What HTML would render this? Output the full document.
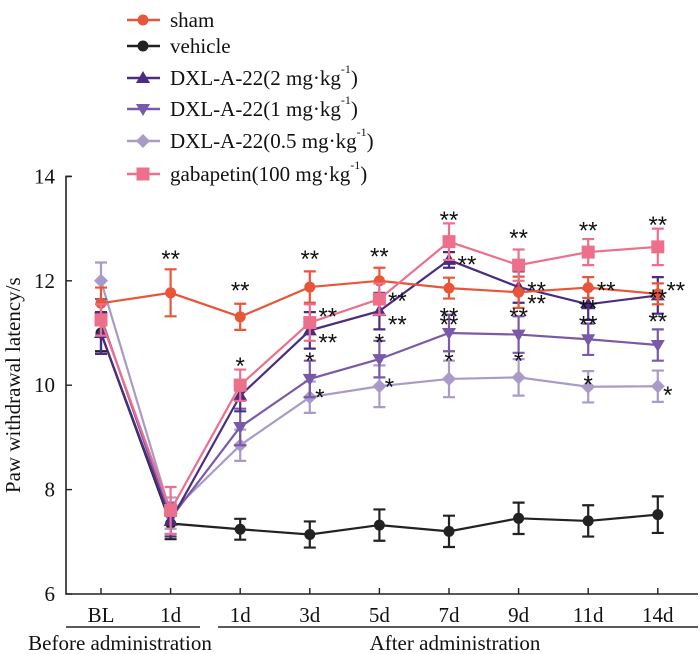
<!DOCTYPE html>
<html><head><meta charset="utf-8">
<style>
html,body{margin:0;padding:0;background:#fff;}
svg{display:block;font-family:"Liberation Serif",serif;}
</style></head>
<body>
<svg id="chart" width="700" height="654" viewBox="0 0 700 654"></svg>
<script>
const categories=["BL","1d","1d","3d","5d","7d","9d","11d","14d"];
const yTicks=[6,8,10,12,14];
const seriesNames=["sham","vehicle","DXL-A-22(2 mg·kg","DXL-A-22(1 mg·kg","DXL-A-22(0.5 mg·kg","gabapetin(100 mg·kg"];
const shamVals=[11.57,11.77,11.31,11.88,12.0,11.86,11.78,11.87,11.75];
const vehicleVals=[11.0,7.35,7.24,7.14,7.32,7.2,7.45,7.4,7.52];
const dxl2Vals=[11.0,7.4,9.8,11.05,11.42,12.4,11.88,11.55,11.72];
const dxl1Vals=[11.3,7.45,9.2,10.12,10.5,11.0,10.97,10.88,10.77];
const dxl05Vals=[12.0,7.55,8.85,9.77,9.98,10.12,10.15,9.97,9.98];
const gabaVals=[11.25,7.6,10.0,11.2,11.65,12.75,12.3,12.55,12.65];
const shamErr=[0.3,0.45,0.25,0.3,0.25,0.2,0.3,0.2,0.2];
const vehicleErr=[0.35,0.3,0.2,0.25,0.3,0.3,0.3,0.3,0.35];
const dxl2Err=[0.4,0.3,0.3,0.35,0.35,0.15,0.3,0.3,0.35];
const dxl1Err=[0.35,0.3,0.35,0.35,0.35,0.35,0.35,0.3,0.3];
const dxl05Err=[0.35,0.3,0.3,0.3,0.4,0.35,0.35,0.3,0.3];
const gabaErr=[0.3,0.45,0.3,0.35,0.3,0.35,0.3,0.25,0.35];
const colors=["#e8563a","#222222","#4a2c82","#7a5aa8","#a99ac8","#ec6f8c"];
const markers=["circle","circle","tri-up","tri-down","diamond","square"];
// significance annotations
const sigCat=[1,2,3,4,5,6,7,8, 3,4,5,6,7,8, 3,4,5,6,7,8, 2,3,4,5,6,7,8, 3,4,5,6,7,8];
const sigVal=[12.55,11.95,12.55,12.6,13.3,12.95,13.1,13.2, 11.45,11.75,12.45,11.95,11.95,11.95, 10.95,11.3,11.3,11.7,11.6,11.8, 10.5,10.6,10.95,11.45,11.45,11.3,11.35, 9.9,10.1,10.6,10.6,10.15,9.95];
const sigTxt=["**","**","**","**","**","**","**","**", "**","**","**","**","**","**", "**","**","**","**","**","**", "*","*","*","**","**","**","**", "*","*","*","*","*","*"];
const sigDx=[0,0,0,0,0,0,0,0, 18,18,18,18,18,18, 18,18,0,18,0,0, 0,0,0,0,0,0,0, 10,10,0,0,0,10];

const svg=document.getElementById('chart');
const NS="http://www.w3.org/2000/svg";
function el(tag,attrs,parent){const e=document.createElementNS(NS,tag);for(const k in attrs)e.setAttribute(k,attrs[k]);(parent||svg).appendChild(e);return e;}
const x0=101,dx=69.6;
function xS(i){return x0+i*dx;}
function yS(v){return 594-(v-6)*52.2;}

const yAxis=el('path',{d:`M71,${yS(14)} H66 V594 H698`,stroke:'#222','stroke-width':1.6,fill:'none'});


yTicks.forEach(t=>{
  const tk=el('line',{x1:66,x2:72,y1:yS(t),y2:yS(t),stroke:'#222','stroke-width':1.4});
  
  
  const lb=el('text',{x:55,y:yS(t)+7,'text-anchor':'end','font-size':21,fill:'#111'});
  lb.textContent=t;
  
  
});
categories.forEach((c,i)=>{
  const tk=el('line',{x1:xS(i),x2:xS(i),y1:588,y2:594,stroke:'#222','stroke-width':1.4});
  
  
  const lb=el('text',{x:xS(i),y:622,'text-anchor':'middle','font-size':21,fill:'#111'});
  lb.textContent=c;
  
  
});
const g1=el('line',{x1:66,x2:200,y1:627,y2:627,stroke:'#222','stroke-width':1.6});


const g2=el('line',{x1:218,x2:698,y1:627,y2:627,stroke:'#222','stroke-width':1.6});


const gl1=el('text',{x:120,y:650,'text-anchor':'middle','font-size':21,fill:'#111'});
gl1.textContent="Before administration";


const gl2=el('text',{x:455,y:650,'text-anchor':'middle','font-size':21,fill:'#111'});
gl2.textContent="After administration";


const yt=el('text',{x:0,y:0,'text-anchor':'middle','font-size':21,fill:'#111',transform:`translate(20,${yS(10)}) rotate(-90)`});
yt.textContent="Paw withdrawal latency/s";



function marker(kind,cx,cy,col,parent){
  let m;
  if(kind==='circle')m=el('circle',{cx:cx,cy:cy,r:5.5,fill:col},parent);
  else if(kind==='square')m=el('rect',{x:cx-6.5,y:cy-6.5,width:13,height:13,fill:col},parent);
  else if(kind==='tri-up')m=el('path',{d:`M${cx},${cy-7} L${cx+7},${cy+5} L${cx-7},${cy+5}Z`,fill:col},parent);
  else if(kind==='tri-down')m=el('path',{d:`M${cx},${cy+7} L${cx+7},${cy-5} L${cx-7},${cy-5}Z`,fill:col},parent);
  else m=el('path',{d:`M${cx},${cy-7} L${cx+7},${cy} L${cx},${cy+7} L${cx-7},${cy}Z`,fill:col},parent);
  return m;
}
const allVals=[shamVals,vehicleVals,dxl2Vals,dxl1Vals,dxl05Vals,gabaVals];
const allErr=[shamErr,vehicleErr,dxl2Err,dxl1Err,dxl05Err,gabaErr];
const drawOrder=[1,4,3,2,0,5];
drawOrder.forEach(s=>{
  const g=el('g',{});
  
  
  const vals=allVals[s],errs=allErr[s],col=colors[s];
  let d='';
  vals.forEach((v,i)=>{d+=(i?'L':'M')+xS(i)+','+yS(v);});
  const ln=el('path',{d:d,stroke:col,'stroke-width':2.2,fill:'none'},g);
  
  
  vals.forEach((v,i)=>{
    const x=xS(i),yt=yS(v+errs[i]),yb=yS(v-errs[i]);
    const eb=el('path',{d:`M${x},${yt}V${yb}M${x-6},${yt}H${x+6}M${x-6},${yb}H${x+6}`,stroke:col,'stroke-width':2.2,fill:'none'},g);
    
    
    const m=marker(markers[s],x,yS(v),col,g);
    
    
  });
});
sigCat.forEach((c,k)=>{
  const t=el('text',{x:xS(c)+sigDx[k],y:yS(sigVal[k])+15,'text-anchor':'middle','font-size':24,fill:'#111','font-family':'"Liberation Sans",sans-serif'});
  t.textContent=sigTxt[k];
  
  
});
const legY=[20,46,78,109,141,174];
seriesNames.forEach((n,i)=>{
  const g=el('g',{});
  
  
  el('line',{x1:127,x2:160,y1:legY[i],y2:legY[i],stroke:colors[i],'stroke-width':2.4},g);
  marker(markers[i],143,legY[i],colors[i],g);
  const t=el('text',{x:170,y:legY[i]+7,'font-size':21,fill:'#111'},g);
  t.textContent=n;
  if(i>=2){
    const sup=el('tspan',{dy:-12,'font-size':12},t);sup.textContent='-1';
    const cl=el('tspan',{dy:12},t);cl.textContent=')';
  }
});
</script>
</body></html>
